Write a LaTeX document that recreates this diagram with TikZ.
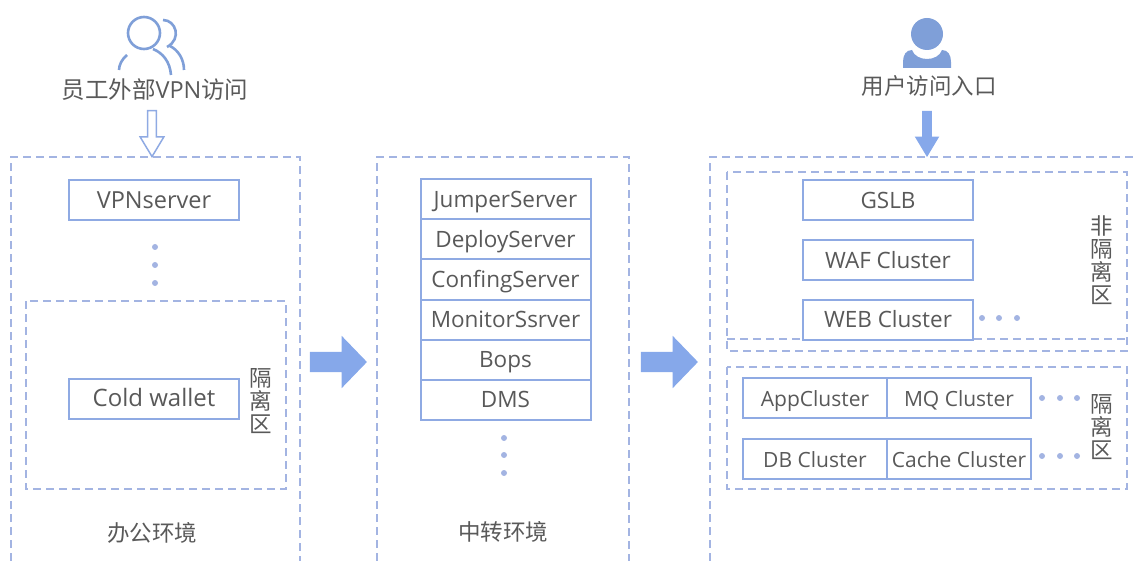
\documentclass[tikz,border=0pt]{standalone}
\usepackage{fontspec}
\setmainfont{Open Sans}
\newfontfamily\cjk{Noto Sans CJK SC}
\usetikzlibrary{shapes.arrows}
\definecolor{boxBlue}{HTML}{8FAAE3}
\definecolor{dashBlue}{HTML}{A3B4E2}
\definecolor{fillBlue}{HTML}{86A8EA}
\definecolor{iconBlue}{HTML}{7F9FD8}
\definecolor{textGray}{HTML}{595959}
\tikzstyle{zone} = [draw=dashBlue, line width=2pt, dash pattern=on 8pt off 5pt]
\tikzstyle{server} = [rectangle, minimum width=170pt, minimum height=40pt, inner sep=0pt, text height=16.5pt, text depth=0pt, draw=boxBlue, line width=2pt, fill=white, text=textGray, font=\fontsize{22.5}{23}\selectfont]
\tikzstyle{halfServer} = [server, minimum width=144pt, font=\fontsize{21}{23}\selectfont]
\tikzstyle{caption} = [inner sep=0pt, text=textGray, align=center, font=\fontsize{22.5}{23}\cjk]
\tikzstyle{moreDot} = [circle, minimum size=6pt, inner sep=0pt, fill=dashBlue]
\tikzstyle{bigArrow} = [single arrow, single arrow tip angle=92, single arrow head extend=16pt, minimum height=57pt, inner sep=10pt, fill=fillBlue]
\tikzstyle{downArrow} = [single arrow, shape border rotate=270, single arrow tip angle=62, single arrow head extend=7.5pt, minimum height=46pt]
\begin{document}
\begin{tikzpicture}[x=1pt,y=-1pt,node distance=40pt]
\useasboundingbox (0,0) rectangle (1137,561);

\draw [zone] (11,561) -- (11,157) -- (300,157) -- (300,561);
\draw [zone] (377,561) -- (377,157) -- (629,157) -- (629,561);
\draw [zone] (710,561) -- (710,157) -- (1137,157);
\draw [zone] (26,301) rectangle (286,489);
\draw [zone] (727,172) rectangle (1127,351);
\draw [zone] (727,339) -- (1127,339);
\draw [zone] (727,367) rectangle (1127,489);

\draw [iconBlue, line width=2.6pt] (144,33) circle (16);
\draw [iconBlue, line width=2.6pt] (163,20) .. controls (176,20) and (182,39) .. (167,47);
\draw [iconBlue, line width=2.6pt] (119,70) .. controls (119,65) and (122,59) .. (127,55);
\draw [iconBlue, line width=2.6pt] (153,49) .. controls (163,53) and (170,62) .. (171,75);
\draw [iconBlue, line width=2.6pt] (170,46) .. controls (178,50) and (184,59) .. (184,70);
\fill [iconBlue] (927,34) circle (16);
\fill [iconBlue] (903,68) -- (903,62) .. controls (903,55) and (906,50) .. (912,50) .. controls (916,62) and (938,62) .. (942,50) .. controls (948,50) and (951,55) .. (951,62) -- (951,68) -- cycle;

\node (vpnLabel) [caption, font=\fontsize{23.5}{23}\cjk] at (155,90) {员工外部\fontspec{Open Sans}VPN\cjk 访问};
\node (userLabel) [caption] at (929,86) {用户访问入口};
\node (vpnArrow) [downArrow, inner sep=3.6pt, draw=boxBlue, line width=1.5pt, fill=white] at (152,130) {};
\node (userArrow) [downArrow, inner sep=4.6pt, fill=fillBlue] at (927,130) {};

\node (vpnserver) [server, font=\fontsize{23.5}{23}\selectfont] at (154,200.5) {VPNserver};
\node (coldWallet) [server, font=\fontsize{24}{23}\selectfont] at (154,398.5) {Cold wallet};
\node (officeIso) [caption] at (261,401) {隔\\离\\区};
\node (office) [caption] at (152,533) {办公环境};
\node (dotA) [moreDot] at (155,247) {};
\node (dotB) [moreDot] at (155,265) {};
\node (dotC) [moreDot] at (155,283) {};

\node (arrowOne) [bigArrow] at (333.5,362) {};

\node (jumper) [server] at (505.5,199.5) {JumperServer};
\node (deploy) [server, below of=jumper] {DeployServer};
\node (config) [server, below of=deploy] {ConfingServer};
\node (monitor) [server, below of=config] {MonitorSsrver};
\node (bops) [server, below of=monitor] {Bops};
\node (dms) [server, below of=bops] {DMS};
\node (dotD) [moreDot] at (504,438) {};
\node (dotE) [moreDot] at (504,455) {};
\node (dotF) [moreDot] at (504,473) {};
\node (transit) [caption] at (503,532) {中转环境};

\node (arrowTwo) [bigArrow] at (664.5,362) {};

\node (gslb) [server] at (888,200) {GSLB};
\node (waf) [server] at (888,260) {WAF Cluster};
\node (web) [server] at (888,319.5) {WEB Cluster};
\node (dotG) [moreDot] at (982,318) {};
\node (dotH) [moreDot] at (999,318) {};
\node (dotI) [moreDot] at (1017,318) {};
\node (openZone) [caption] at (1102,260) {非\\隔\\离\\区};

\node (app) [halfServer] at (815,398) {AppCluster};
\node (mq) [halfServer] at (959,398) {MQ Cluster};
\node (db) [halfServer] at (815,459) {DB Cluster};
\node (cache) [halfServer] at (959,459) {Cache Cluster};
\node (dotJ) [moreDot] at (1042,398) {};
\node (dotK) [moreDot] at (1060,398) {};
\node (dotL) [moreDot] at (1077,398) {};
\node (dotM) [moreDot] at (1042,456) {};
\node (dotN) [moreDot] at (1060,456) {};
\node (dotO) [moreDot] at (1077,456) {};
\node (isoZone) [caption] at (1102,427) {隔\\离\\区};
\end{tikzpicture}
\end{document}
